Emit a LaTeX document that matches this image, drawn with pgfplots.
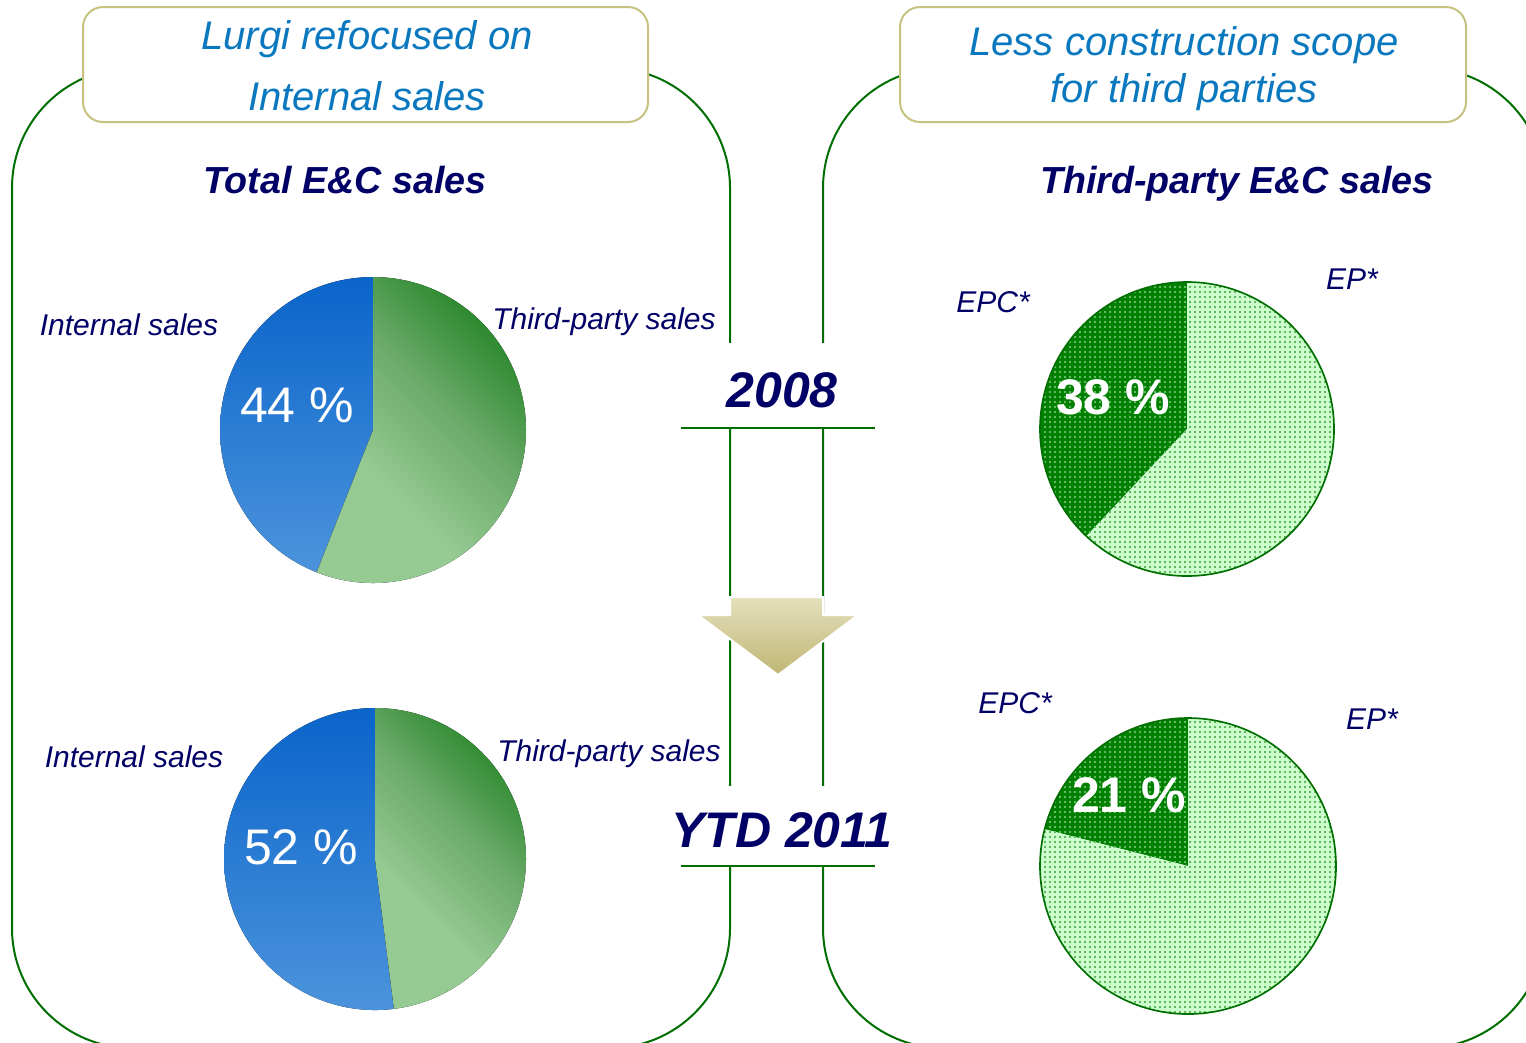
\documentclass[border=0pt]{standalone}
\usepackage{pgfplots}
\pgfplotsset{compat=1.18}
\usepackage{pgfplotstable}
\usepackage{fontspec}
\setmainfont{Liberation Sans}
\usetikzlibrary{patterns.meta}

\definecolor{navy}{HTML}{000066}
\definecolor{boxblue}{HTML}{0A78BE}
\definecolor{framegreen}{HTML}{006E00}
\definecolor{khaki}{HTML}{C8C280}
\definecolor{blueTop}{HTML}{0A64CA}
\definecolor{blueBot}{HTML}{4C94DC}
\definecolor{greenDark}{HTML}{2F8A30}
\definecolor{greenMid}{HTML}{6AAA69}
\definecolor{greenLight}{HTML}{95CA93}
\definecolor{epc}{HTML}{008000}
\definecolor{ep}{HTML}{CCFFCC}
\definecolor{epcdots}{HTML}{8AD08A}
\definecolor{epdots}{HTML}{3A9E3A}
\definecolor{arrowTop}{HTML}{E4E0BC}
\definecolor{arrowBot}{HTML}{C0B675}

\pgfdeclareverticalshading{greenpie}{100bp}{color(0bp)=(greenLight); color(25bp)=(greenLight);
  color(38bp)=(greenLight); color(57bp)=(greenMid); color(73bp)=(greenDark); color(100bp)=(greenDark)}

% shares in percent
\pgfplotstableread{
year internal third
2008 44 56
2011 52 48
}\totalsales
\pgfplotstableread{
year epc ep
2008 38 62
2011 21 79
}\thirdsales

\pgfplotsset{pie/.style={hide axis, scale only axis, clip=false,
  xmin=-1, xmax=1, ymin=-1, ymax=1, anchor=center}}

\tikzset{
  lab/.style={inner sep=0pt, text=navy, font=\fontsize{9}{11}\selectfont\itshape},
  boxtxt/.style={inner sep=0pt, text=boxblue, font=\fontsize{12}{14}\selectfont\itshape},
  dotsL/.style={pattern={Dots[distance=1.5pt, radius=0.32pt]}, pattern color=epcdots},
  dotsD/.style={pattern={Dots[distance=1.5pt, radius=0.32pt]}, pattern color=epdots},
}

\begin{document}
\begin{tikzpicture}[x=0.3pt, y=-0.3pt]
\path[use as bounding box] (0,0) rectangle (1526,1042);
\clip (0,0) rectangle (1526,1042);

% frames
\draw[framegreen, line width=0.6pt, rounded corners=36pt] (12,68) rectangle (730,1048);
\draw[framegreen, line width=0.6pt, rounded corners=36pt] (823,68) rectangle (1545,1048);

% centre year labels
\fill[white] (690,343) rectangle (870,428);
\fill[white] (655,786) rectangle (905,866);
\draw[framegreen, line width=0.6pt] (681,428) -- (875,428);
\draw[framegreen, line width=0.6pt] (681,866) -- (875,866);
\node[inner sep=0pt, text=navy, font=\fontsize{15}{18}\selectfont\bfseries\itshape] at (782,390) {2008};
\node[inner sep=0pt, text=navy, font=\fontsize{15}{18}\selectfont\bfseries\itshape] at (782,830) {YTD 2011};

% arrow
\path[draw=white, line width=0.6pt, top color=arrowTop, bottom color=arrowBot]
  (730,597) -- (823,597) -- (823,615) -- (858,615) -- (778,675) -- (698,615) -- (730,615) -- cycle;

% title boxes
\draw[khaki, line width=0.6pt, fill=white, rounded corners=6pt] (83,7) rectangle (648,122);
\draw[khaki, line width=0.6pt, fill=white, rounded corners=6pt] (900,7) rectangle (1466,122);
\node[boxtxt] at (367,39) {Lurgi refocused on};
\node[boxtxt] at (367,96) {Internal sales};
\node[boxtxt] at (1184,45) {Less construction scope};
\node[boxtxt] at (1184,92) {for third parties};

\node[inner sep=0pt, text=navy, font=\fontsize{11.3}{13}\selectfont\bfseries\itshape] at (345,180) {Total E\&C sales};
\node[inner sep=0pt, text=navy, font=\fontsize{11.3}{13}\selectfont\bfseries\itshape] at (1237,184) {Third-party E\&C sales};

% angles of slice boundaries
\pgfplotstablegetelem{0}{internal}\of\totalsales
\pgfmathsetmacro\aA{90+3.6*\pgfplotsretval}
\pgfplotstablegetelem{1}{internal}\of\totalsales
\pgfmathsetmacro\aB{90+3.6*\pgfplotsretval}
\pgfplotstablegetelem{0}{epc}\of\thirdsales
\pgfmathsetmacro\aC{90+3.6*\pgfplotsretval}
\pgfplotstablegetelem{1}{epc}\of\thirdsales
\pgfmathsetmacro\aD{90+3.6*\pgfplotsretval}

\coordinate (cA) at (373,430);
\coordinate (cB) at (375,859);
\coordinate (cC) at (1187,429);
\coordinate (cD) at (1188,866);

% total E&C sales 2008
\begin{axis}[pie, at={(cA)}, width=91.8pt, height=91.8pt]
\fill[top color=blueTop, bottom color=blueBot] (axis cs:0,0) -- (axis cs:0,1)
  arc[start angle=90, end angle=\aA, radius=45.9pt] -- cycle;
\fill[shading=greenpie, shading angle=-45] (axis cs:0,0) -- (axis cs:0,1)
  arc[start angle=90, end angle=\aA-360, radius=45.9pt] -- cycle;
\end{axis}

% total E&C sales YTD 2011
\begin{axis}[pie, at={(cB)}, width=90.6pt, height=90.6pt]
\fill[top color=blueTop, bottom color=blueBot] (axis cs:0,0) -- (axis cs:0,1)
  arc[start angle=90, end angle=\aB, radius=45.3pt] -- cycle;
\fill[shading=greenpie, shading angle=-45] (axis cs:0,0) -- (axis cs:0,1)
  arc[start angle=90, end angle=\aB-360, radius=45.3pt] -- cycle;
\end{axis}

% third-party sales 2008
\begin{axis}[pie, at={(cC)}, width=88.2pt, height=88.2pt]
\fill[epc, postaction={dotsL}] (axis cs:0,0) -- (axis cs:0,1)
  arc[start angle=90, end angle=\aC, radius=44.1pt] -- cycle;
\fill[ep, postaction={dotsD}] (axis cs:0,0) -- (axis cs:0,1)
  arc[start angle=90, end angle=\aC-360, radius=44.1pt] -- cycle;
\draw[framegreen, line width=0.5pt] (axis cs:0,0) circle[radius=44.1pt];
\end{axis}

% third-party sales YTD 2011
\begin{axis}[pie, at={(cD)}, width=88.8pt, height=88.8pt]
\fill[epc, postaction={dotsL}] (axis cs:0,0) -- (axis cs:0,1)
  arc[start angle=90, end angle=\aD, radius=44.4pt] -- cycle;
\fill[ep, postaction={dotsD}] (axis cs:0,0) -- (axis cs:0,1)
  arc[start angle=90, end angle=\aD-360, radius=44.4pt] -- cycle;
\draw[framegreen, line width=0.5pt] (axis cs:0,0) circle[radius=44.4pt];
\end{axis}

% labels
\node[lab] at (129,325) {Internal sales};
\node[lab] at (604,322) {Third-party sales};
\node[lab] at (134,757) {Internal sales};
\node[lab] at (609,754) {Third-party sales};
\node[lab] at (993,302) {EPC*};
\node[lab] at (1352,279) {EP*};
\node[lab] at (1015,703) {EPC*};
\node[lab] at (1372,719) {EP*};

\node[inner sep=0pt, text=white, font=\fontsize{15}{18}\selectfont] at (297,405) {44 \%};
\node[inner sep=0pt, text=white, font=\fontsize{15}{18}\selectfont] at (301,847) {52 \%};
\node[inner sep=0pt, text=white, font=\fontsize{15}{18}\selectfont\bfseries] at (1113,397) {38 \%};
\node[inner sep=0pt, text=white, font=\fontsize{15}{18}\selectfont\bfseries] at (1129,795) {21 \%};
\end{tikzpicture}
\end{document}
